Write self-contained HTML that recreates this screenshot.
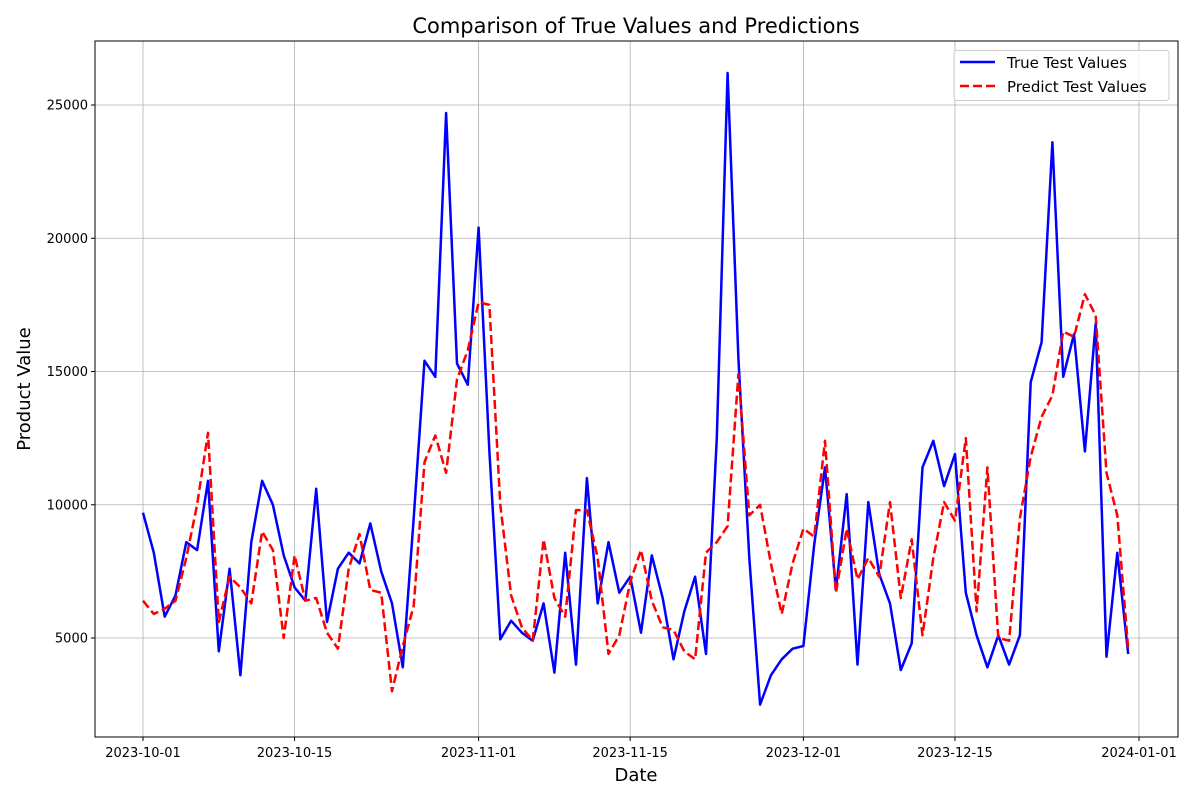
<!DOCTYPE html>
<html><head><meta charset="utf-8"><style>
body{margin:0;background:#fff;}
svg{display:block;font-family:"DejaVu Sans","Liberation Sans",sans-serif;}
</style></head><body>
<svg id="chart" width="1200" height="800">
<text x="636" y="33" font-size="21" text-anchor="middle">Comparison of True Values and Predictions</text>
<text x="636" y="781" font-size="18" text-anchor="middle">Date</text>
<text x="30" y="389" font-size="18" text-anchor="middle" transform="rotate(-90 30 389)">Product Value</text>
<g id="grid"></g><g id="series"></g>
<rect x="95" y="41" width="1083" height="696" fill="none" stroke="#000" stroke-width="1"/>
<g id="ticks"></g>
<g>
<rect x="954" y="50.5" width="215" height="50" rx="3" fill="#fff" fill-opacity="0.8" stroke="#ccc"/>
<line x1="960" y1="62" x2="995" y2="62" stroke="#0000ff" stroke-width="2.5"/>
<text x="1007" y="68" font-size="15">True Test Values</text>
<line x1="960" y1="86" x2="995" y2="86" stroke="#ff0000" stroke-width="2.5" stroke-dasharray="9,4"/>
<text x="1007" y="92" font-size="15">Predict Test Values</text>
</g>
</svg>
<script>
const trueVals=[9700,8200,5800,6600,8600,8300,10900,4500,7600,3600,8600,10900,10000,8100,6900,6400,10600,5600,7600,8200,7800,9300,7500,6300,3900,9500,15400,14800,24700,15300,14500,20400,12000,4950,5650,5200,4900,6300,3700,8200,4000,11000,6300,8600,6700,7300,5200,8100,6500,4200,6000,7300,4400,12500,26200,15500,8000,2500,3600,4200,4600,4700,8500,11400,6800,10400,4000,10100,7400,6300,3800,4800,11400,12400,10700,11900,6700,5100,3900,5100,4000,5100,14600,16100,23600,14800,16400,12000,16800,4300,8200,4400];
const predVals=[6400,5900,6100,6400,8000,10000,12700,5600,7300,6900,6300,9000,8300,5000,8100,6400,6500,5200,4600,7600,8900,6800,6700,3000,4700,6200,11600,12600,11200,14700,15800,17600,17500,10000,6600,5400,4900,8700,6500,5800,9800,9800,8000,4400,5100,7100,8300,6400,5400,5300,4500,4200,8200,8600,9200,14900,9600,10000,7800,5900,7800,9100,8800,12400,6700,9100,7200,8000,7300,10100,6500,8700,5100,8000,10100,9400,12500,6000,11400,5000,4900,9500,11800,13300,14100,16500,16300,17900,17100,11200,9600,4600];
const xTickLabels=["2023-10-01","2023-10-15","2023-11-01","2023-11-15","2023-12-01","2023-12-15","2024-01-01"];
const xTickDays=[0,14,31,45,61,75,92];
const yTicks=[5000,10000,15000,20000,25000];
const NS="http://www.w3.org/2000/svg";
const xs=d=>143+d*(996/92);
const ys=v=>638-(v-5000)*(533/20000);
function mk(p,tag,attrs){const e=document.createElementNS(NS,tag);for(const k in attrs)e.setAttribute(k,attrs[k]);p.appendChild(e);return e;}
const grid=document.getElementById('grid'),ticks=document.getElementById('ticks'),ser=document.getElementById('series');
xTickDays.forEach((d,i)=>{
 const x=xs(d);
 const g=mk(grid,'line',{x1:x,x2:x,y1:41,y2:737,stroke:'#b0b0b0','stroke-width':0.8});
 
 
 mk(ticks,'line',{x1:x,x2:x,y1:737,y2:741,stroke:'#000'});
 const t=mk(ticks,'text',{x:x,y:757,'font-size':13,'text-anchor':'middle'});
 t.textContent=xTickLabels[i];
 
 
});
yTicks.forEach(v=>{
 const y=ys(v);
 const g=mk(grid,'line',{x1:95,x2:1178,y1:y,y2:y,stroke:'#b0b0b0','stroke-width':0.8});
 
 
 mk(ticks,'line',{x1:91,x2:95,y1:y,y2:y,stroke:'#000'});
 const t=mk(ticks,'text',{x:88,y:y+4.5,'font-size':13,'text-anchor':'end'});
 t.textContent=v;
 
 
});
function line(vals,color,dash,name){
 const pts=vals.map((v,i)=>xs(i).toFixed(1)+','+ys(v).toFixed(1)).join(' ');
 const a={points:pts,fill:'none',stroke:color,'stroke-width':2.5,'stroke-linejoin':'round'};
 if(dash)a['stroke-dasharray']=dash;
 const p=mk(ser,'polyline',a);
 
 
}
line(trueVals,'#0000ff',null,'true-values-line');
line(predVals,'#ff0000','9,4','predict-values-line');
</script>
</body></html>
